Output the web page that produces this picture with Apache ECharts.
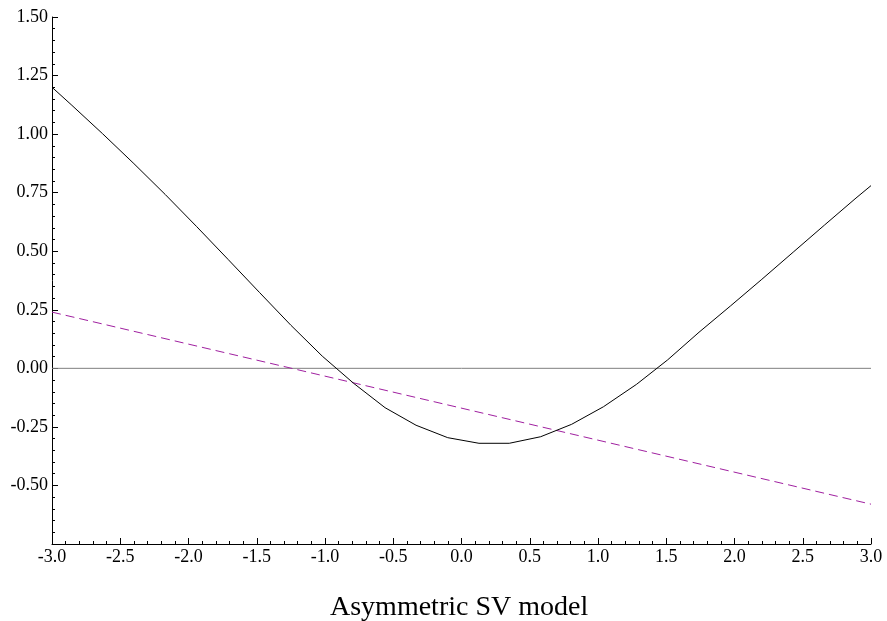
<!DOCTYPE html>
<html>
<head>
<meta charset="utf-8">
<script src="https://cdn.jsdelivr.net/npm/echarts@6/dist/echarts.min.js"></script>
<style>html,body{margin:0;padding:0;background:#fff}#c{width:887px;height:621px}</style>
</head>
<body>
<div id="c"></div>
<script>
// Black solid curve (vertices)
const curveX = [-3.0, -2.86, -2.63, -2.40, -2.17, -1.94, -1.71, -1.48, -1.25, -1.02, -0.79, -0.56, -0.333, -0.101, 0.128, 0.35, 0.58, 0.807, 1.04, 1.283, 1.51, 1.74, 1.97, 2.20, 2.43, 2.66, 2.89, 3.0];
const curveY = [1.20, 1.126, 1.002, 0.874, 0.742, 0.605, 0.465, 0.324, 0.184, 0.052, -0.064, -0.168, -0.243, -0.296, -0.320, -0.320, -0.292, -0.239, -0.164, -0.068, 0.036, 0.154, 0.266, 0.38, 0.496, 0.612, 0.727, 0.78];
// Purple dashed straight line
const dashX = [-3.0, 3.0];
const dashY = [0.24, -0.58];
// Grey zero reference line
const zeroX = [-3.0, 3.0];
const zeroY = [0, 0];
const titleText = 'Asymmetric SV model';

const pairs = (xs, ys) => xs.map((x, i) => [x, ys[i]]);
const font = 'Liberation Serif';

const chart = echarts.init(document.getElementById('c'), null, {renderer: 'canvas'});
chart.setOption({
  animation: false,
  backgroundColor: '#ffffff',
  title: {
    text: titleText,
    left: 325,
    top: 589,
    textStyle: {fontFamily: font, fontSize: 28, fontWeight: 'normal', color: '#000'}
  },
  grid: {left: 52, right: 16, top: 17, bottom: 77, containLabel: false},
  xAxis: {
    type: 'value', min: -3, max: 3, interval: 0.5,
    axisLine: {onZero: false, lineStyle: {color: '#000', width: 1}},
    axisTick: {inside: true, length: 6, lineStyle: {color: '#000'}},
    minorTick: {show: true, splitNumber: 5, length: 3, lineStyle: {color: '#000'}},
    splitLine: {show: false},
    axisLabel: {fontFamily: font, fontSize: 18, color: '#000', margin: 4,
      formatter: v => v.toFixed(1)}
  },
  yAxis: {
    type: 'value', min: -0.75, max: 1.5, interval: 0.25,
    axisLine: {show: true, onZero: false, lineStyle: {color: '#000', width: 1}},
    axisTick: {show: true, inside: true, length: 6, lineStyle: {color: '#000'}},
    minorTick: {show: true, splitNumber: 5, length: 3, lineStyle: {color: '#000'}},
    splitLine: {show: false},
    axisLabel: {fontFamily: font, fontSize: 18, color: '#000', margin: 4,
      formatter: v => (Math.abs(v + 0.75) < 1e-9 ? '' : v.toFixed(2))}
  },
  series: [
    {type: 'line', data: pairs(zeroX, zeroY), symbol: 'none', silent: true,
      lineStyle: {color: '#808080', width: 1}},
    {type: 'line', data: pairs(dashX, dashY), symbol: 'none', silent: true,
      lineStyle: {color: '#a020a0', width: 1, type: [9, 5]}},
    {type: 'line', data: pairs(curveX, curveY), symbol: 'none', silent: true,
      lineStyle: {color: '#000000', width: 1}}
  ]
});
</script>
</body>
</html>
